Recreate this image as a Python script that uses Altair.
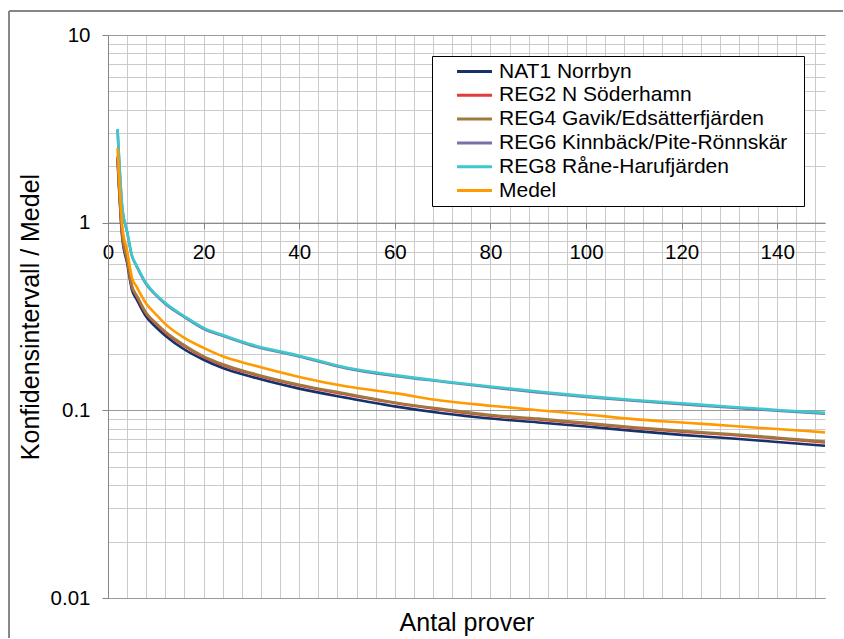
import altair as alt
import pandas as pd

# ---------------- data ----------------
n_values = [2, 3, 4, 5, 6, 8, 10, 12, 16, 20, 24, 30, 40, 50, 60, 70, 80, 90, 100, 110, 120, 130, 140, 150]

series_names = [
    "NAT1 Norrbyn",
    "REG2 N Söderhamn",
    "REG4 Gavik/Edsätterfjärden",
    "REG6 Kinnbäck/Pite-Rönnskär",
    "REG8 Råne-Harufjärden",
    "Medel",
]
series_colors = ["#14336B", "#E23B3B", "#9E7A3F", "#7773A6", "#3CC8CC", "#FF9A00"]

nat1 = [2.18, 0.82, 0.61, 0.44, 0.39, 0.315, 0.278, 0.25, 0.211, 0.186, 0.168, 0.151, 0.1305, 0.1165,
        0.1050, 0.0965, 0.0905, 0.0862, 0.0820, 0.0777, 0.0740, 0.0710, 0.0678, 0.0648]
reg2 = [2.24, 0.85, 0.635, 0.455, 0.405, 0.327, 0.289, 0.259, 0.220, 0.192, 0.174, 0.1565, 0.1357, 0.1213,
        0.1094, 0.1005, 0.0936, 0.0894, 0.0849, 0.0805, 0.0769, 0.0741, 0.0708, 0.0675]
reg4 = [2.26, 0.86, 0.64, 0.46, 0.41, 0.33, 0.292, 0.262, 0.222, 0.194, 0.176, 0.158, 0.137, 0.1225,
        0.1100, 0.1015, 0.0945, 0.0903, 0.0857, 0.0813, 0.0777, 0.0748, 0.0715, 0.0681]
reg6 = [3.12, 1.19, 0.89, 0.665, 0.585, 0.47, 0.411, 0.369, 0.314, 0.272, 0.2495, 0.2218, 0.1937, 0.1673,
        0.1525, 0.1421, 0.1327, 0.1247, 0.1178, 0.1124, 0.1079, 0.1035, 0.0995, 0.0959]
reg8 = [3.16, 1.20, 0.90, 0.67, 0.59, 0.475, 0.415, 0.373, 0.317, 0.275, 0.252, 0.224, 0.1956, 0.1685,
        0.1540, 0.1430, 0.1340, 0.1260, 0.1190, 0.1135, 0.1090, 0.1045, 0.1005, 0.0969]
medel = [2.50, 0.95, 0.71, 0.51, 0.455, 0.37, 0.325, 0.288, 0.243, 0.215, 0.194, 0.175, 0.1507, 0.134,
         0.1235, 0.1125, 0.1058, 0.1002, 0.0951, 0.0898, 0.0862, 0.0828, 0.0795, 0.0763]

x_label_values = [0, 20, 40, 60, 80, 100, 120, 140]
x_grid_values = list(range(0, 150, 4))
y_label_values = [0.01, 0.1, 1, 10]
y_minor_multipliers = [1, 2, 3, 4, 5, 6, 7, 8, 9]

x_title = "Antal prover"
y_title = "Konfidensintervall / Medel"

# ---------------- build table ----------------
rows = []
for name, vals in zip(series_names, [nat1, reg2, reg4, reg6, reg8, medel]):
    for n, v in zip(n_values, vals):
        rows.append({"n": n, "v": v, "serie": name})
df = pd.DataFrame(rows)

y_grid_values = []
for d in y_label_values[:-1]:
    for m in y_minor_multipliers:
        y_grid_values.append(round(m * d, 6))
y_grid_values.append(y_label_values[-1])

# ---------------- layout ----------------
W, H = 717, 563
FONT = "Liberation Sans"
AXIS_DARK = "#868686"
GRID_LIGHT = "#CACACA"
LABEL_SIZE = 20.5
TITLE_SIZE = 25

x_scale = alt.Scale(domain=[0, 150], nice=False, zero=False)
y_scale = alt.Scale(type="log", domain=[0.01, 10], nice=False)
color_scale = alt.Scale(domain=series_names, range=series_colors)

major_test = "abs(log(datum.value)/LN10 - round(log(datum.value)/LN10)) < 1e-6"

y_axis = alt.Axis(
    values=y_grid_values,
    grid=True,
    gridColor={"condition": {"test": major_test, "value": "#9A9A9A"}, "value": GRID_LIGHT},
    gridWidth=1,
    tickOpacity={"condition": {"test": major_test, "value": 1}, "value": 0},
    tickSize=6,
    tickColor=AXIS_DARK,
    domainColor=AXIS_DARK,
    labelExpr=f"({major_test}) ? format(datum.value, '~g') : ''",
    labelFont=FONT,
    labelFontSize=LABEL_SIZE,
    labelColor="black",
    labelPadding=12,
    title=y_title,
    titleFont=FONT,
    titleFontSize=TITLE_SIZE,
    titleFontWeight="normal",
    titleColor="black",
    titlePadding=7,
)

x_grid_axis = alt.Axis(
    orient="bottom",
    values=x_grid_values,
    grid=True,
    gridColor=GRID_LIGHT,
    gridWidth=1,
    labels=False,
    ticks=False,
    domainColor="#9A9A9A",
    title=x_title,
    titleFont=FONT,
    titleFontSize=TITLE_SIZE,
    titleFontWeight="normal",
    titleColor="black",
    titlePadding=12,
)

x_label_axis = alt.Axis(
    orient="bottom",
    offset=-H * 2 / 3,
    values=x_label_values,
    grid=False,
    tickSize=6,
    tickColor=AXIS_DARK,
    domainColor=AXIS_DARK,
    labelFont=FONT,
    labelFontSize=LABEL_SIZE,
    labelColor="black",
    labelPadding=14,
    labelFlush=False,
    title=None,
)

legend = alt.Legend(
    orient="none",
    legendX=324,
    legendY=21,
    title=" ",
    titleOrient="right",
    titlePadding=12,
    padding=5,
    strokeColor="black",
    fillColor="white",
    symbolType="M-3.5,0H3.5",
    symbolSize=100,
    symbolStrokeWidth=3,
    labelFont=FONT,
    labelFontSize=21,
    labelColor="black",
    labelLimit=500,
    rowPadding=1.8,
    symbolOffset=27,
    labelOffset=14,
)

grid_layer = alt.Chart(df).mark_point(opacity=0).encode(
    x=alt.X("n:Q", scale=x_scale, axis=x_grid_axis),
    y=alt.Y("v:Q", scale=y_scale, axis=y_axis),
)

label_layer = alt.Chart(df).mark_point(opacity=0).encode(
    x=alt.X("n:Q", scale=x_scale, axis=x_label_axis),
    y=alt.Y("v:Q", scale=y_scale, axis=y_axis),
)

line_layers = []
for name in series_names:
    line_layers.append(
        alt.Chart(df)
        .transform_filter(alt.datum.serie == name)
        .mark_line(strokeWidth=2.6, interpolate="monotone")
        .encode(
            x=alt.X("n:Q", scale=x_scale, axis=None),
            y=alt.Y("v:Q", scale=y_scale, axis=y_axis),
            color=alt.Color("serie:N", scale=color_scale, legend=legend),
        )
    )

# chart-area border (left and top edges visible in the reference)
border_left = alt.Chart(df).mark_rule(color=AXIS_DARK, strokeWidth=1).encode(
    x=alt.value(-99), y=alt.value(-24), y2=alt.value(H + 40)
)
border_top = alt.Chart(df).mark_rule(color=AXIS_DARK, strokeWidth=1).encode(
    x=alt.value(-99), x2=alt.value(W + 18), y=alt.value(-24)
)

chart = (
    alt.layer(grid_layer, label_layer, *line_layers, border_left, border_top)
    .resolve_axis(x="independent")
    .properties(width=W, height=H, padding={"left": 8, "top": 10, "right": 0, "bottom": 0},
                background="white")
    .configure_view(stroke=None)
)

chart.save("out.html", embed_options={"renderer": "svg", "actions": False})
